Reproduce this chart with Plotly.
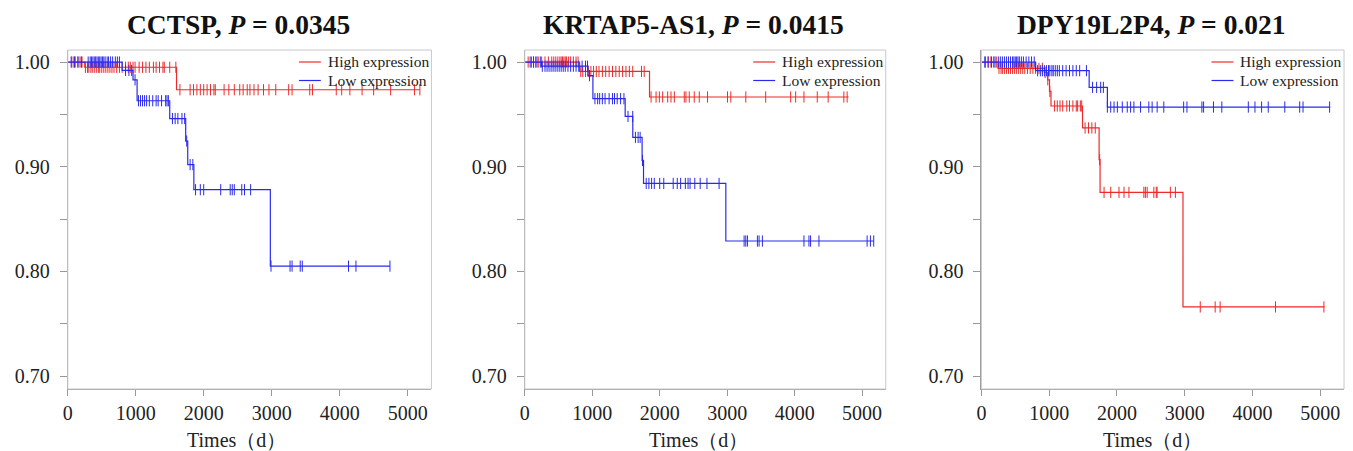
import plotly.graph_objects as go
import bisect

# ---------------- data ----------------
titles = ["CCTSP", "KRTAP5-AS1", "DPY19L2P4"]
p_values = ["0.0345", "0.0415", "0.021"]
group_names = ["High expression", "Low expression"]

x_ticks = [0, 1000, 2000, 3000, 4000, 5000]
y_ticks = [0.70, 0.75, 0.80, 0.85, 0.90, 0.95, 1.00]
y_ticktext = ["0.70", "", "0.80", "", "0.90", "", "1.00"]

# Panel 1: CCTSP
cctsp_high_times = [0, 250, 1600]
cctsp_high_surv = [1.0, 0.995, 0.9735]
cctsp_high_end = 5180
cctsp_high_cens = [60, 90, 110, 150, 180, 210, 260, 290, 310, 340, 360, 390, 420, 450, 470, 500,
                   530, 560, 590, 620, 650, 680, 720, 760, 800, 850, 890, 920, 960, 990, 1050, 1100,
                   1150, 1200, 1260, 1300, 1350, 1400, 1420, 1500, 1590, 1650, 1800, 1850, 1900,
                   1950, 2000, 2050, 2100, 2150, 2170, 2300, 2370, 2450, 2530, 2580, 2640, 2680,
                   2740, 2800, 2880, 2960, 3060, 3250, 3300, 3560, 3600, 3950, 4030, 4150, 4330,
                   4500, 4750, 5100, 5180]
cctsp_low_times = [0, 800, 960, 1020, 1500, 1735, 1765, 1855, 2980]
cctsp_low_surv = [1.0, 0.992, 0.983, 0.963, 0.946, 0.9245, 0.902, 0.878, 0.805]
cctsp_low_end = 4740
cctsp_low_cens = [50, 100, 150, 200, 300, 330, 350, 370, 390, 410, 430, 450, 470, 490, 510, 530,
                  550, 580, 600, 630, 660, 700, 730, 760, 850, 900, 940, 990, 1040, 1070, 1100,
                  1130, 1160, 1200, 1250, 1300, 1330, 1380, 1440, 1460, 1480, 1540, 1580, 1620,
                  1680, 1720, 1750, 1800, 1840, 1880, 1950, 2000, 2250, 2390, 2420, 2450, 2560,
                  2600, 2690, 2990, 3270, 3300, 3420, 3450, 4130, 4240, 4740]

# Panel 2: KRTAP5-AS1
krtap_high_times = [0, 813, 1849]
krtap_high_surv = [1.0, 0.991, 0.9666]
krtap_high_end = 4800
krtap_high_cens = [50, 100, 130, 160, 200, 250, 300, 350, 400, 430, 460, 490, 520, 540, 560, 580,
                   600, 620, 650, 680, 720, 760, 790, 830, 860, 900, 940, 980, 1020, 1060, 1100,
                   1150, 1200, 1250, 1300, 1350, 1400, 1450, 1500, 1550, 1600, 1730, 1770, 1872,
                   1946, 1995, 2044, 2118, 2167, 2217, 2364, 2389, 2438, 2512, 2586, 2709, 3005,
                   3054, 3276, 3571, 3941, 4015, 4138, 4335, 4497, 4729, 4778]
krtap_low_times = [0, 246, 936, 1010, 1488, 1601, 1739, 1760, 2980]
krtap_low_surv = [1.0, 0.996, 0.987, 0.965, 0.948, 0.928, 0.906, 0.884, 0.829]
krtap_low_end = 5172
krtap_low_cens = [80, 130, 180, 230, 260, 300, 330, 360, 390, 420, 450, 480, 510, 540, 570, 600,
                  640, 680, 720, 760, 800, 850, 900, 930, 960, 1040, 1080, 1110, 1150, 1190, 1250,
                  1300, 1330, 1370, 1420, 1470, 1530, 1600, 1640, 1680, 1710, 1745, 1800, 1840,
                  1880, 1920, 2000, 2060, 2200, 2260, 2310, 2380, 2420, 2450, 2520, 2600, 2700,
                  2880, 3251, 3276, 3300, 3448, 3473, 3522, 4138, 4212, 4236, 4360, 5074, 5123,
                  5172]

# Panel 3: DPY19L2P4
dpy_high_times = [0, 245, 930, 978, 1005, 1027, 1492, 1737, 1751, 2974]
dpy_high_surv = [1.0, 0.994, 0.99, 0.983, 0.972, 0.958, 0.937, 0.9067, 0.8755, 0.766]
dpy_high_end = 5063
dpy_high_cens = [60, 100, 140, 180, 220, 260, 290, 310, 340, 370, 400, 430, 460, 490, 520, 550,
                 580, 610, 640, 680, 720, 760, 800, 850, 900, 940, 980, 1010, 1080, 1120, 1160,
                 1200, 1260, 1300, 1350, 1400, 1420, 1460, 1480, 1530, 1580, 1630, 1680, 1745,
                 1810, 1908, 2030, 2104, 2177, 2397, 2420, 2446, 2544, 2580, 2593, 2788, 2862,
                 3229, 3449, 3522, 4339, 5053]
dpy_low_times = [0, 800, 1590, 1859]
dpy_low_surv = [1.0, 0.9917, 0.9758, 0.957]
dpy_low_end = 5146
dpy_low_cens = [50, 100, 150, 200, 250, 280, 310, 340, 370, 400, 430, 460, 480, 500, 520, 540,
                560, 590, 620, 660, 700, 740, 780, 830, 870, 900, 930, 960, 990, 1010, 1040, 1060,
                1090, 1120, 1150, 1200, 1250, 1300, 1350, 1400, 1450, 1550, 1640, 1700, 1760,
                1800, 1859, 1908, 1957, 2006, 2079, 2152, 2201, 2250, 2348, 2470, 2519, 2593,
                2691, 2984, 3033, 3253, 3278, 3424, 3547, 3938, 4036, 4134, 4232, 4476, 4696,
                4745, 5137]

panels = [
    [(cctsp_high_times, cctsp_high_surv, cctsp_high_end, cctsp_high_cens),
     (cctsp_low_times, cctsp_low_surv, cctsp_low_end, cctsp_low_cens)],
    [(krtap_high_times, krtap_high_surv, krtap_high_end, krtap_high_cens),
     (krtap_low_times, krtap_low_surv, krtap_low_end, krtap_low_cens)],
    [(dpy_high_times, dpy_high_surv, dpy_high_end, dpy_high_cens),
     (dpy_low_times, dpy_low_surv, dpy_low_end, dpy_low_cens)],
]

# ---------------- styling ----------------
W, H = 1353, 451
colors = ["#ee2a2a", "#2a2aee"]
serif = "Liberation Serif, Times New Roman, serif"
plot_left = [63, 521.7, 980]
plot_right = [428, 884, 1344]
y_domain = [1 - 389 / H, 1 - 50 / H]
title_x = [234, 691, 1151]
xlabel_x = [232, 696, 1152]
legend_rows = [62, 80.5]


def surv_at(times, surv, t):
    i = bisect.bisect_right(times, t) - 1
    return surv[max(i, 0)]


fig = go.Figure()
layout = dict(width=W, height=H, margin=dict(l=0, r=0, t=0, b=0),
              paper_bgcolor="white", plot_bgcolor="white", showlegend=False)
annotations = []
shapes = []

for pi, groups in enumerate(panels):
    sfx = "" if pi == 0 else str(pi + 1)
    xa, ya = "x" + sfx, "y" + sfx
    for gi, (times, surv, end, cens) in enumerate(groups):
        xs = list(times) + [end]
        ys = list(surv) + [surv[-1]]
        fig.add_trace(go.Scatter(x=xs, y=ys, mode="lines", line=dict(shape="hv", color=colors[gi], width=1.2),
                                 name=group_names[gi], xaxis=xa, yaxis=ya, hoverinfo="skip"))
        fig.add_trace(go.Scatter(x=cens, y=[surv_at(times, surv, c) for c in cens], mode="markers",
                                 marker=dict(symbol="line-ns", size=8, line=dict(width=1, color=colors[gi])),
                                 xaxis=xa, yaxis=ya, hoverinfo="skip"))
        # legend entry (line sample + label)
        ry = 1 - legend_rows[gi] / H
        r = plot_right[pi]
        shapes.append(dict(type="line", xref="paper", yref="paper", x0=(r - 133) / W, x1=(r - 111) / W,
                           y0=ry, y1=ry, line=dict(color=colors[gi], width=1.2)))
        annotations.append(dict(text=group_names[gi], xref="paper", yref="paper", x=(r - 106) / W, y=ry,
                                xanchor="left", yanchor="middle", showarrow=False,
                                font=dict(family=serif, size=15.5, color="#222")))
    layout["xaxis" + sfx] = dict(domain=[plot_left[pi] / W, plot_right[pi] / W], range=[0, 5350], anchor=ya,
                                 tickvals=x_ticks, ticks="outside", ticklen=6, tickcolor="#999",
                                 showline=True, linecolor="#999", linewidth=1, showgrid=False, zeroline=False,
                                 tickfont=dict(family=serif, size=20, color="#222"))
    layout["yaxis" + sfx] = dict(domain=y_domain, range=[0.6876, 1.0115], anchor=xa, tickvals=y_ticks,
                                 ticktext=y_ticktext, ticks="outside", ticklen=7, tickcolor="#999",
                                 ticklabelstandoff=6,
                                 showline=True, linecolor="#999", linewidth=1, showgrid=False, zeroline=False,
                                 tickfont=dict(family=serif, size=20, color="#222"))
    shapes.append(dict(type="rect", xref=xa + " domain", yref=ya + " domain", x0=0, x1=1, y0=0, y1=1,
                       line=dict(color="#c8c8c8", width=1)))
    annotations.append(dict(text="<b>%s, <i>P</i> = %s</b>" % (titles[pi], p_values[pi]), xref="paper",
                            yref="paper", x=title_x[pi] / W, y=1 - 25 / H, xanchor="center", yanchor="middle",
                            showarrow=False, font=dict(family=serif, size=27.5, color="#111")))
    annotations.append(dict(text="Times（d）", xref="paper", yref="paper", x=xlabel_x[pi] / W, y=1 - 440 / H,
                            xanchor="center", yanchor="middle", showarrow=False,
                            font=dict(family=serif, size=20, color="#222")))

layout["annotations"] = annotations
layout["shapes"] = shapes
fig.update_layout(**layout)
fig.write_html("out.html", config={"displayModeBar": False},
               post_script="document.body.style.margin='0';document.body.style.overflow='hidden';")
